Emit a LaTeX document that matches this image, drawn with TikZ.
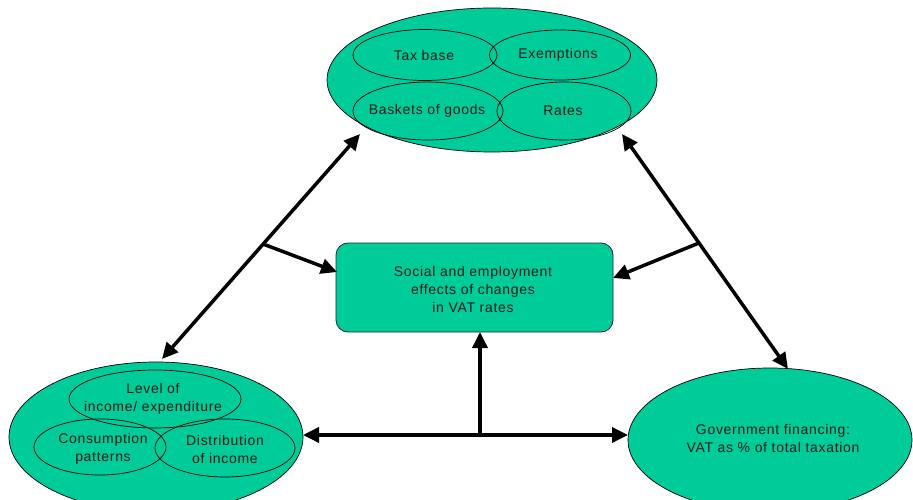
\documentclass[tikz,border=0pt]{standalone}
\usepackage{fontspec}
\newfontfamily\lblfont{Liberation Sans}[LetterSpace=5]
\usetikzlibrary{shapes.geometric,arrows.meta}
\definecolor{vgreen}{RGB}{0,204,153}
\tikzset{
  bigell/.style={ellipse, draw=black, fill=vgreen, line width=0.7pt, inner sep=0pt},
  subell/.style={ellipse, draw=black, line width=0.7pt, inner sep=0pt},
  lbl/.style={font=\lblfont\fontsize{14}{18}\selectfont, align=center, inner sep=0pt, text=black!90},
  conn/.style={line width=3.5pt, -{Triangle[length=16pt,width=15pt]}},
  bothconn/.style={line width=3.5pt, {Triangle[length=16pt,width=15pt]}-{Triangle[length=16pt,width=15pt]}},
  boxstyle/.style={draw=black!85, fill=vgreen, rounded corners=12pt, line width=0.8pt, inner sep=0pt}
}
\begin{document}
\begin{tikzpicture}[x=1pt,y=-1pt]
\useasboundingbox (0,0) rectangle (913,500);
\clip (0,0) rectangle (913,500);
% top ellipse
\node[bigell, minimum width=330, minimum height=144] (topE) at (492,80) {};
\node[subell, minimum width=144, minimum height=51] (tax) at (425,55) {};
\node[subell, minimum width=141, minimum height=50] (exe) at (560,55) {};
\node[subell, minimum width=150, minimum height=58] (bas) at (428,111) {};
\node[subell, minimum width=134, minimum height=58] (rat) at (564,111) {};
\node[lbl] (taxt) at (424,55) {Tax base};
\node[lbl] (exet) at (558,55) {Exemptions};
\node[lbl] (bast) at (427,111) {Baskets of goods};
\node[lbl] (ratt) at (563,111) {Rates};
% bottom left ellipse
\node[bigell, minimum width=294, minimum height=150] (blE) at (156,437) {};
\node[subell, minimum width=172, minimum height=58] (lev) at (155,399) {};
\node[subell, minimum width=132, minimum height=56] (con) at (100,447) {};
\node[subell, minimum width=140, minimum height=58] (dis) at (225,448) {};
\node[lbl] (levt) at (153,399) {Level of\\income/ expenditure};
\node[lbl] (cont) at (103,449) {Consumption\\patterns};
\node[lbl] (dist) at (225,449) {Distribution\\of income};
% bottom right ellipse
\node[bigell, minimum width=284, minimum height=144] (brE) at (770,440) {};
\node[lbl] (brt) at (773,438) {Government financing:\\VAT as \% of total taxation};
% center box
\node[boxstyle, minimum width=277, minimum height=89] (box) at (474.5,287.5) {};
\node[lbl] (boxt) at (473,289) {Social and employment\\effects of changes\\in VAT rates};
% connector coordinates
\coordinate (tl) at (360,134);
\coordinate (bl) at (162,359);
\coordinate (jl) at (263,244);
\coordinate (bxl) at (337,272);
\coordinate (tr) at (622,134);
\coordinate (br) at (788,369);
\coordinate (jr) at (699,243);
\coordinate (bxr) at (613,278);
\coordinate (hl) at (303,435);
\coordinate (hr) at (628,435);
\coordinate (hm) at (480,435);
\coordinate (bxb) at (480,332);
% connectors
\draw[bothconn] (tl) -- (bl);
\draw[bothconn] (tr) -- (br);
\draw[conn] (jl) -- (bxl);
\draw[conn] (jr) -- (bxr);
\draw[bothconn] (hl) -- (hr);
\draw[conn] (hm) -- (bxb);
\end{tikzpicture}
\end{document}
